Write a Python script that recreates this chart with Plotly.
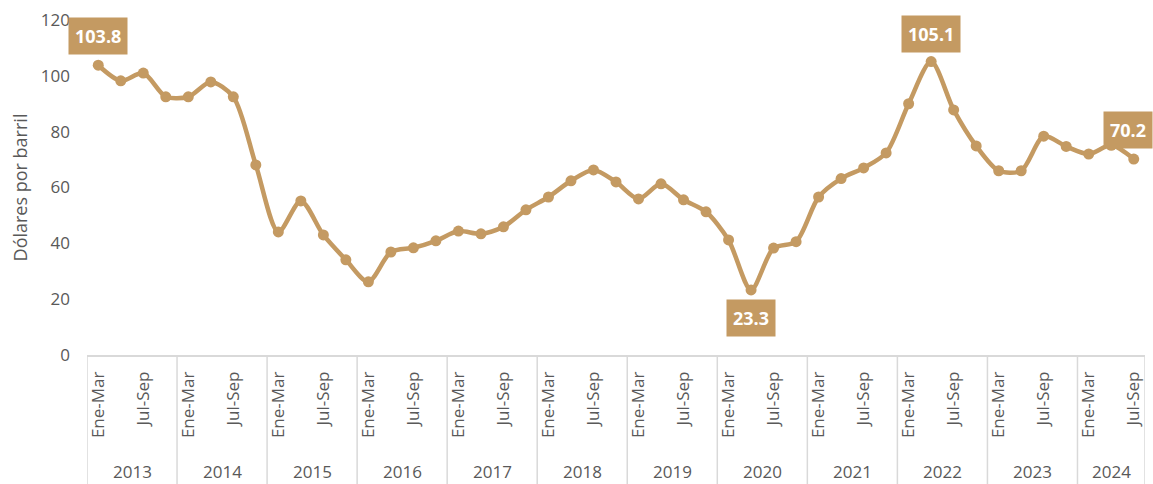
import plotly.graph_objects as go

years = [str(y) for y in range(2013, 2025)]
quarters = ["Ene-Mar", "Abr-Jun", "Jul-Sep", "Oct-Dic"]
values = [
    103.8, 98.2, 101.0, 92.5,
    92.5, 97.8, 92.5, 68.1,
    44.1, 55.2, 43.0, 34.1,
    26.2, 36.9, 38.4, 40.9,
    44.4, 43.4, 45.9, 52.0,
    56.6, 62.4, 66.3, 62.0,
    55.9, 61.3, 55.6, 51.3,
    41.2, 23.3, 38.3, 40.6,
    56.6, 63.2, 67.0, 72.4,
    90.0, 105.1, 87.8, 74.9,
    66.0, 66.0, 78.4, 74.7,
    72.0, 75.1, 70.2,
]
highlight = {0: (0, 29), 37: (0, 28), 29: (0, -28), 46: (-6, 29)}

COLOR = "#C49A62"
GRAY = "#595959"
FONT = "Open Sans"

n = len(values)
x = list(range(n))
cat_year = [years[i // 4] for i in range(n)]
cat_q = [quarters[i % 4] for i in range(n)]

fig = go.Figure()
fig.add_trace(go.Scatter(
    x=x, y=values, mode="lines+markers",
    line=dict(color=COLOR, width=4.5, shape="spline", smoothing=0.8),
    marker=dict(color=COLOR, size=11),
    customdata=list(zip(cat_year, cat_q)),
    hovertemplate="%{customdata[1]} %{customdata[0]}: %{y}<extra></extra>",
    cliponaxis=False,
))

for i, (dx, dy) in highlight.items():
    fig.add_annotation(
        x=i, y=values[i], xref="x", yref="y", text=f"<b>{values[i]:.1f}</b>",
        showarrow=False, xshift=dx, yshift=dy, bgcolor=COLOR, borderpad=6,
        font=dict(color="white", size=18, family=FONT),
    )

tickvals = [i for i in x if i % 4 in (0, 2)]
ticktext = [cat_q[i] for i in tickvals]

shapes = []
bounds = [-0.5] + [4 * k - 0.5 for k in range(1, 12)] + [n - 0.5]
for b in bounds:
    shapes.append(dict(type="line", xref="x", yref="paper", x0=b, x1=b, y0=0, y1=-0.39,
                       line=dict(color="#D9D9D9", width=1.5)))
for k, yr in enumerate(years):
    lo = 4 * k - 0.5
    hi = min(4 * k + 3.5, n - 0.5)
    fig.add_annotation(x=(lo + hi) / 2, y=-0.349, xref="x", yref="paper", text=yr,
                       showarrow=False, yanchor="middle",
                       font=dict(size=17, color=GRAY, family=FONT))

fig.update_layout(
    width=1153, height=484,
    margin=dict(l=87, r=8, t=20, b=129, autoexpand=False),
    plot_bgcolor="white", paper_bgcolor="white",
    showlegend=False, shapes=shapes,
    font=dict(family=FONT, color=GRAY),
)
fig.update_xaxes(
    range=[-0.5, n - 0.5], tickmode="array", tickvals=tickvals, ticktext=ticktext,
    tickangle=-90, tickfont=dict(size=17, color=GRAY, family=FONT),
    showgrid=False, zeroline=False, showline=True, linecolor="#D9D9D9", linewidth=1.5,
    ticks="", ticklabelstandoff=8, automargin=False,
)
fig.update_yaxes(
    range=[0, 120], dtick=20, showgrid=False, zeroline=False, showline=False,
    tickfont=dict(size=17, color=GRAY, family=FONT), ticks="", ticklabelstandoff=16,
    automargin=False,
    title=dict(text="Dólares por barril", font=dict(size=18, color=GRAY, family=FONT), standoff=8),
)

fig.write_html(
    "out.html",
    config={"displayModeBar": False},
    post_script="document.body.style.margin='0';document.body.style.overflow='hidden';",
)
